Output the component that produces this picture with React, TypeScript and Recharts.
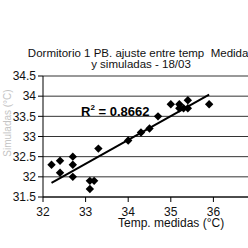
import React from 'react';
import { ScatterChart, Scatter, XAxis, YAxis, CartesianGrid } from 'recharts';

const measuredTemps = [32.2, 32.4, 32.4, 32.7, 32.7, 32.7, 33.3, 33.1, 33.2, 33.1, 34.0, 34.3, 34.5, 34.7, 35.0, 35.2, 35.3, 35.2, 35.4, 35.4, 35.9];
const simulatedTemps = [32.3, 32.4, 32.1, 32.5, 32.3, 32.0, 32.7, 31.9, 31.9, 31.7, 32.9, 33.1, 33.2, 33.5, 33.8, 33.8, 33.7, 33.7, 33.9, 33.7, 33.8];
const trendX = [32.2, 35.9];
const trendY = [31.85, 34.04];
const xTicks = [32, 33, 34, 35, 36];
const yTicks = [31.5, 32, 32.5, 33, 33.5, 34, 34.5];
const titleLine1 = 'Dormitorio 1 PB. ajuste entre temp  Medidas';
const titleLine2 = 'y simuladas - 18/03';
const xLabel = 'Temp. medidas (°C)';
const yLabel = 'Simuladas (°C)';
const r2Label = '= 0.8662';

const points = measuredTemps.map((x, i) => ({ x, y: simulatedTemps[i] }));
const trend = trendX.map((x, i) => ({ x, y: trendY[i] }));

const font = 'Arial, "Liberation Sans", sans-serif';

const Diamond = (props: any) => {
  const { cx, cy } = props;
  const r = 4.2;
  return <polygon points={`${cx},${cy - r} ${cx + r},${cy} ${cx},${cy + r} ${cx - r},${cy}`} fill="#000" />;
};

export default function App() {
  return (
    <div style={{ position: 'absolute', left: 0, top: 0, width: 248, height: 248, overflow: 'hidden', background: '#fff', fontFamily: font }}>
      <ScatterChart width={300} height={248} margin={{ top: 76, right: 44, left: 0, bottom: 21 }}>
        <CartesianGrid horizontal vertical={false} stroke="#333" strokeWidth={1} />
        <XAxis
          type="number"
          dataKey="x"
          domain={[32, 37]}
          ticks={xTicks}
          height={30}
          tickSize={5}
          tickMargin={5}
          stroke="#000"
          tick={{ fill: '#111', fontSize: 12, fontFamily: font }}
          interval={0}
        />
        <YAxis
          type="number"
          dataKey="y"
          domain={[31.5, 34.5]}
          ticks={yTicks}
          width={43}
          tickSize={5}
          tickMargin={2}
          stroke="#000"
          tick={{ fill: '#111', fontSize: 12, fontFamily: font }}
          interval={0}
        />
        <Scatter data={points} shape={<Diamond />} isAnimationActive={false} />
        <Scatter data={trend} line={{ stroke: '#000', strokeWidth: 2 }} shape={() => <g />} isAnimationActive={false} />
      </ScatterChart>
      <div style={{ position: 'absolute', left: 0, width: 282, top: 48, textAlign: 'center', fontSize: 11.5, lineHeight: '11px', color: '#111', whiteSpace: 'pre' }}>
        {titleLine1}
        <br />
        {titleLine2}
      </div>
      <div style={{ position: 'absolute', left: 81, top: 104, fontSize: 13, fontWeight: 'bold', color: '#000', whiteSpace: 'nowrap' }}>
        R<sup style={{ fontSize: 8, verticalAlign: 'top', lineHeight: '8px' }}>2</sup> {r2Label}
      </div>
      <div style={{ position: 'absolute', left: 118, width: 97, top: 216, textAlign: 'center', fontSize: 12, color: '#111', whiteSpace: 'nowrap' }}>
        {xLabel}
      </div>
      <div style={{ position: 'absolute', left: 7, top: 123, transform: 'translate(-50%, -50%) rotate(-90deg)', fontSize: 10, color: '#c4c4c4', whiteSpace: 'nowrap' }}>
        {yLabel}
      </div>
    </div>
  );
}
